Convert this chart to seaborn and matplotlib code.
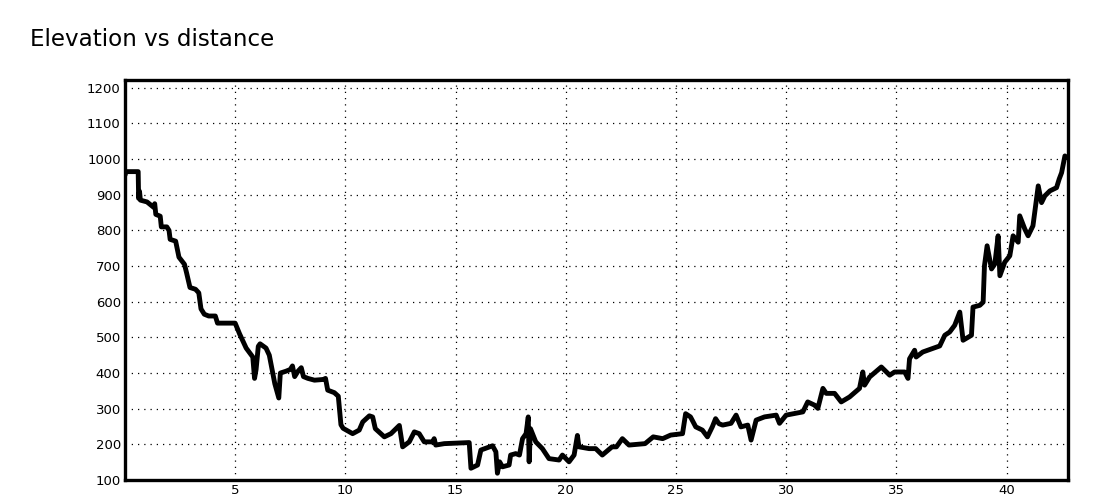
import matplotlib
matplotlib.use("Agg")
import matplotlib.pyplot as plt
import seaborn as sns

# distance along the route (km) and elevation (m)
distance_km = [
    0.0, 0.05, 0.6, 0.62, 0.66, 0.7, 1.0, 1.3, 1.35, 1.4, 1.6, 1.65, 1.9, 2.0,
    2.05, 2.3, 2.4, 2.45, 2.7, 2.8, 2.95, 3.2, 3.35, 3.45, 3.6, 3.8, 4.1, 4.2,
    4.5, 5.0, 5.2, 5.5, 5.8, 5.88, 5.95, 6.05, 6.13, 6.4, 6.55, 6.8, 6.98, 7.05,
    7.3, 7.5, 7.6, 7.7, 7.85, 8.0, 8.1, 8.3, 8.6, 9.0, 9.1, 9.2, 9.5, 9.68,
    9.8, 9.9, 10.33, 10.63, 10.79, 11.09, 11.24, 11.36, 11.77, 12.07, 12.45,
    12.6, 12.9, 13.13, 13.35, 13.58, 13.96, 14.03, 14.1, 14.49, 15.62, 15.7,
    16.0, 16.15, 16.68, 16.83, 16.9, 17.0, 17.13, 17.43, 17.5, 17.73, 17.9,
    18.04, 18.2, 18.3, 18.34, 18.4, 18.64, 18.94, 19.24, 19.7, 19.85, 20.15,
    20.38, 20.53, 20.6, 21.06, 21.36, 21.66, 22.1, 22.3, 22.57, 22.87, 23.6,
    23.97, 24.4, 24.76, 25.3, 25.44, 25.66, 25.9, 26.2, 26.43, 26.65, 26.8,
    26.95, 27.12, 27.5, 27.73, 27.95, 28.26, 28.41, 28.64, 29.02, 29.55, 29.7,
    30.0, 30.76, 30.98, 31.29, 31.44, 31.67, 31.82, 32.2, 32.5, 32.88, 33.33,
    33.48, 33.56, 33.79, 34.32, 34.7, 34.92, 35.38, 35.53, 35.6, 35.83, 35.9,
    36.2, 36.97, 37.2, 37.42, 37.65, 37.88, 38.03, 38.41, 38.48, 38.79, 38.94,
    39.0, 39.12, 39.32, 39.47, 39.62, 39.7, 39.92, 40.15, 40.3, 40.53, 40.6,
    40.83, 40.98, 41.2, 41.36, 41.44, 41.59, 41.74, 41.97, 42.27, 42.39, 42.5,
    42.65, 42.73,
]
elevation_m = [
    955, 965, 965, 890, 910, 885, 880, 865, 875, 845, 840, 810, 810, 800,
    775, 770, 740, 725, 705, 680, 640, 635, 625, 580, 565, 560, 560, 540,
    540, 540, 510, 470, 445, 385, 410, 475, 482, 470, 450, 370, 330, 400,
    405, 410, 420, 390, 405, 415, 390, 385, 380, 382, 385, 352, 345, 335,
    255, 245, 230, 240, 263, 280, 277, 244, 221, 230, 253,
    193, 207, 235, 230, 207, 207, 216, 198, 202, 205, 133,
    142, 184, 196, 179, 119, 151, 137, 142, 170, 174, 170,
    216, 230, 277, 151, 244, 207, 188, 160, 156, 170, 151,
    170, 225, 193, 188, 188, 170, 193, 193, 216, 198, 202,
    221, 216, 226, 230, 286, 277, 249, 240, 221, 249, 272,
    258, 254, 259, 282, 249, 254, 212, 268, 277, 282, 259,
    282, 291, 319, 310, 301, 357, 343, 343, 319, 333, 357,
    403, 366, 389, 417, 394, 403, 403, 385, 440, 464, 445,
    459, 476, 506, 515, 534, 571, 492, 506, 585, 590, 599,
    701, 757, 692, 706, 785, 673, 711, 729, 785, 767, 841,
    804, 785, 813, 888, 925, 878, 897, 911, 920, 944, 962,
    1009, 1005,
]

x_ticks = [5, 10, 15, 20, 25, 30, 35, 40]
y_ticks = [100, 200, 300, 400, 500, 600, 700, 800, 900, 1000, 1100, 1200]

sns.set_style("white")
plt.rcParams['font.family'] = ['DejaVu Sans']

fig = plt.figure(figsize=(11, 5), dpi=100)
ax = fig.add_axes([0.1136, 0.04, 0.8575, 0.80])

sns.lineplot(x=distance_km, y=elevation_m, ax=ax, color="black",
             linewidth=3.5, estimator=None, sort=False)

ax.set_xlim(0, 42.8)
ax.set_ylim(100, 1222)
ax.set_xticks(x_ticks)
ax.set_yticks(y_ticks)
ax.tick_params(axis="both", direction="in", length=5, width=1.2,
               labelsize=9.5, colors="black", pad=3)
ax.grid(True, linestyle=(0, (1, 4)), color="black", linewidth=0.9)
ax.set_axisbelow(True)
for side in ax.spines.values():
    side.set_color("black")
    side.set_linewidth(2.4)
ax.set_xlabel("")
ax.set_ylabel("")

fig.text(30 / 1100, 1 - 40 / 500, "Elevation vs distance", fontsize=16.6,
         va="center", ha="left", color="black")

fig.savefig("out.png", dpi=100, facecolor="white")
